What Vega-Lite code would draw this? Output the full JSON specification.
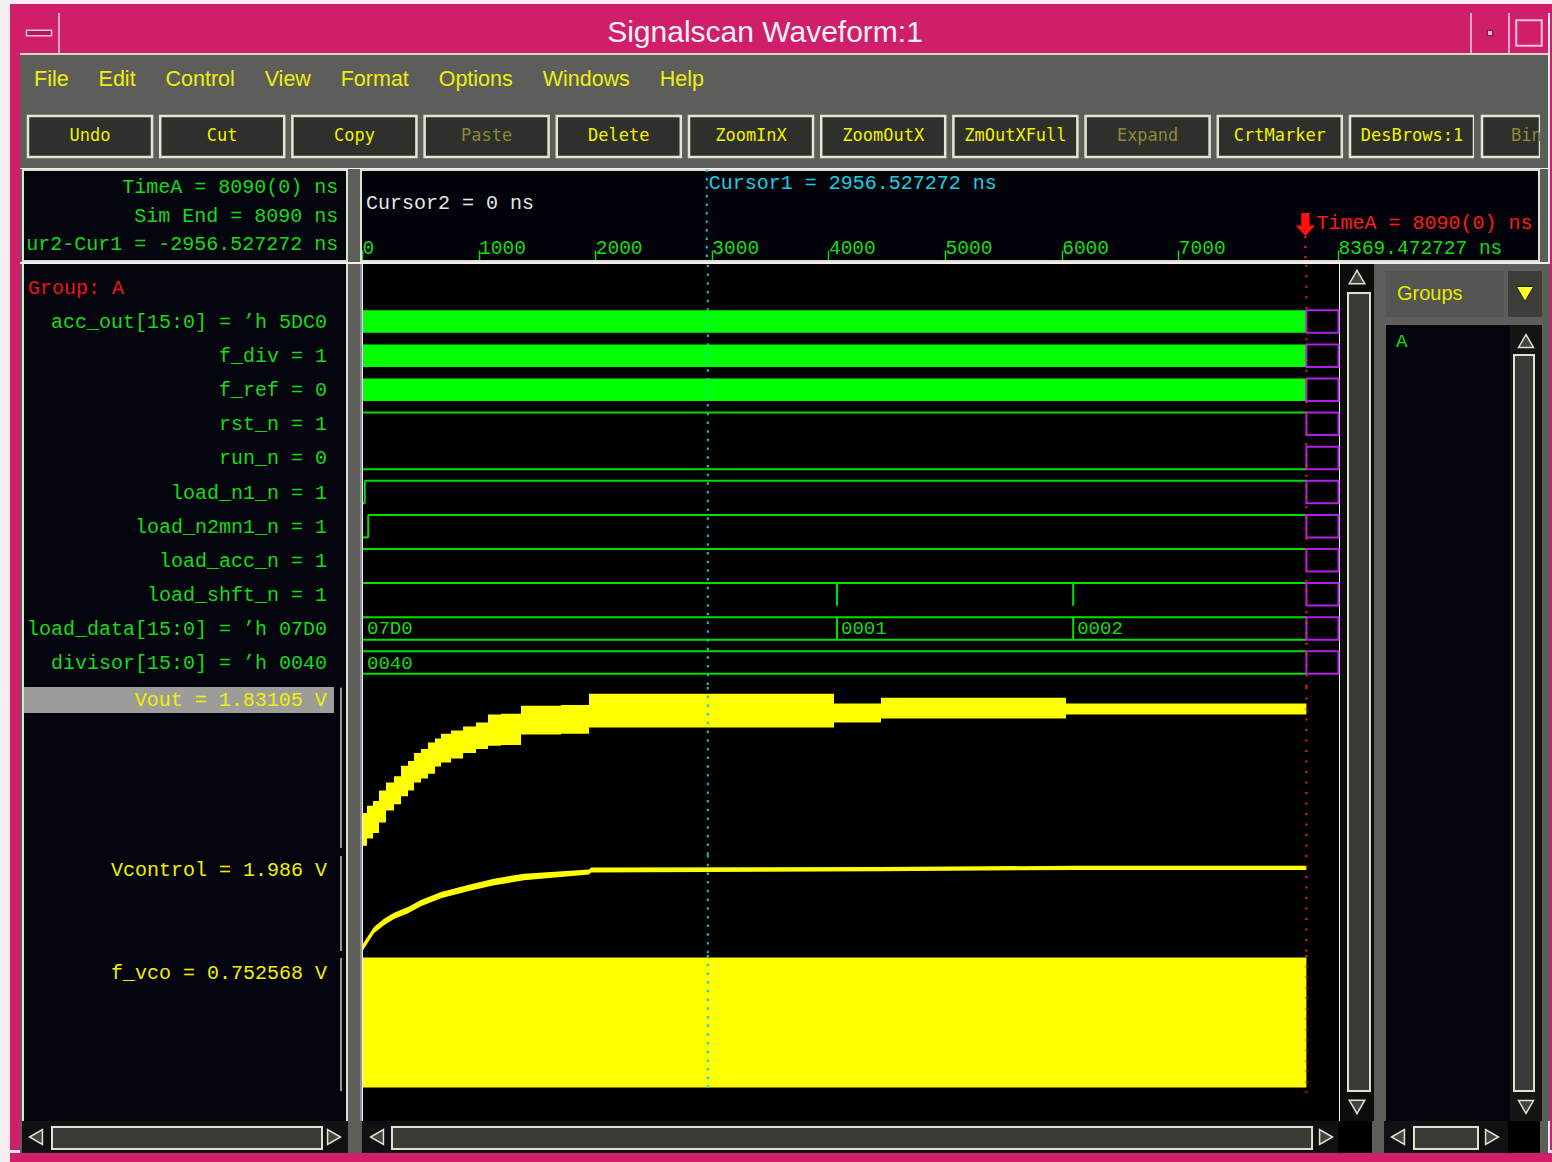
{
"$schema": "https://vega.github.io/schema/vega-lite/v6.json",
"background": "#f6eef2",
"padding": {"left": 10, "top": 4, "right": 0, "bottom": 0},
"spacing": 0,
"config": {"view": {"stroke": null}, "concat": {"spacing": 0}},
"datasets": {
"segs": [
{"row":"acc_out","t0":0,"t1":8090,"lvl":"fill"},
{"row":"f_div","t0":0,"t1":8090,"lvl":"fill"},
{"row":"f_ref","t0":0,"t1":8090,"lvl":"fill"},
{"row":"rst_n","t0":0,"t1":8090,"lvl":"hi"},
{"row":"run_n","t0":0,"t1":8090,"lvl":"lo"},
{"row":"load_n1_n","t0":0,"t1":15,"lvl":"lo"},
{"row":"load_n1_n","t0":15,"t1":8090,"lvl":"hi"},
{"row":"load_n2mn1_n","t0":0,"t1":45,"lvl":"lo"},
{"row":"load_n2mn1_n","t0":45,"t1":8090,"lvl":"hi"},
{"row":"load_acc_n","t0":0,"t1":8090,"lvl":"hi"},
{"row":"load_shft_n","t0":0,"t1":8090,"lvl":"hi"},
{"row":"load_data","t0":0,"t1":8090,"lvl":"bus"},
{"row":"divisor","t0":0,"t1":8090,"lvl":"bus"}
],
"edges": [
{"row":"load_n1_n","t":15},
{"row":"load_n2mn1_n","t":45},
{"row":"load_shft_n","t":4065},
{"row":"load_shft_n","t":6090},
{"row":"load_data","t":4065},
{"row":"load_data","t":6090}
],
"busvals": [
{"row":"load_data","t":0,"val":"07D0"},
{"row":"load_data","t":4065,"val":"0001"},
{"row":"load_data","t":6090,"val":"0002"},
{"row":"divisor","t":0,"val":"0040"}
],
"lanes": [
{"row":"acc_out"},{"row":"f_div"},{"row":"f_ref"},{"row":"rst_n"},{"row":"run_n"},{"row":"load_n1_n"},{"row":"load_n2mn1_n"},{"row":"load_acc_n"},{"row":"load_shft_n"},{"row":"load_data"},{"row":"divisor"}
],
"labels": [
{"row":"group","col":"left","label":"Group: A"},
{"row":"acc_out","col":"right","label":"acc_out[15:0] = ’h 5DC0"},
{"row":"f_div","col":"right","label":"f_div = 1"},
{"row":"f_ref","col":"right","label":"f_ref = 0"},
{"row":"rst_n","col":"right","label":"rst_n = 1"},
{"row":"run_n","col":"right","label":"run_n = 0"},
{"row":"load_n1_n","col":"right","label":"load_n1_n = 1"},
{"row":"load_n2mn1_n","col":"right","label":"load_n2mn1_n = 1"},
{"row":"load_acc_n","col":"right","label":"load_acc_n = 1"},
{"row":"load_shft_n","col":"right","label":"load_shft_n = 1"},
{"row":"load_data","col":"right","label":"load_data[15:0] = ’h 07D0"},
{"row":"divisor","col":"right","label":"divisor[15:0] = ’h 0040"}
],
"vout": [
{"t":0,"hi":0.50,"lo":0.09},{"t":34,"hi":0.59,"lo":0.18},{"t":86,"hi":0.65,"lo":0.25},{"t":137,"hi":0.78,"lo":0.38},
{"t":197,"hi":0.88,"lo":0.53},{"t":266,"hi":0.96,"lo":0.61},{"t":326,"hi":1.09,"lo":0.71},{"t":386,"hi":1.15,"lo":0.78},
{"t":437,"hi":1.25,"lo":0.88},{"t":497,"hi":1.30,"lo":0.93},{"t":557,"hi":1.38,"lo":0.99},{"t":617,"hi":1.43,"lo":1.08},
{"t":669,"hi":1.49,"lo":1.13},{"t":755,"hi":1.53,"lo":1.18},{"t":858,"hi":1.58,"lo":1.25},{"t":969,"hi":1.63,"lo":1.30},
{"t":1072,"hi":1.73,"lo":1.34},{"t":1183,"hi":1.74,"lo":1.35},{"t":1355,"hi":1.84,"lo":1.48},{"t":1698,"hi":1.85,"lo":1.49},
{"t":1938,"hi":1.99,"lo":1.57},{"t":4039,"hi":1.87,"lo":1.63},{"t":4442,"hi":1.94,"lo":1.68},{"t":6028,"hi":1.87,"lo":1.73},
{"t":8090,"hi":1.87,"lo":1.73}
],
"vctl": [
{"t":0,"hi":0.20,"lo":0.04},{"t":94,"hi":0.60,"lo":0.45},{"t":180,"hi":0.80,"lo":0.64},{"t":266,"hi":0.94,"lo":0.79},
{"t":386,"hi":1.08,"lo":0.93},{"t":497,"hi":1.25,"lo":1.10},{"t":669,"hi":1.44,"lo":1.29},{"t":900,"hi":1.61,"lo":1.46},
{"t":1123,"hi":1.76,"lo":1.60},{"t":1381,"hi":1.88,"lo":1.72},{"t":1938,"hi":1.98,"lo":1.86},{"t":1955,"hi":2.03,"lo":1.91},
{"t":4442,"hi":2.04,"lo":1.94},{"t":6114,"hi":2.07,"lo":1.97},{"t":8090,"hi":2.07,"lo":1.97}
],
"fvco": [{"t0":0,"t1":8090,"hi":1.2,"lo":0}],
"cursors": [{"cursor":"Cursor1","t":2956.527272},{"cursor":"TimeA","t":8090}],
"hdr": [
{"kind":"cursor1","t":2956.527272,"line":1,"text":"Cursor1 = 2956.527272 ns"},
{"kind":"cursor2","t":0,"line":2,"text":"Cursor2 = 0 ns"},
{"kind":"timeA","t":8090,"line":3,"text":"TimeA = 8090(0) ns"}
],
"lhdr": [
{"col":"r","line":1,"text":"TimeA = 8090(0) ns"},
{"col":"r","line":2,"text":"Sim End = 8090 ns"},
{"col":"r","line":3,"text":"ur2-Cur1 = -2956.527272 ns"}
],
"buttons": [
{"name":"Undo","state":"on","bar":"tb"},{"name":"Cut","state":"on","bar":"tb"},{"name":"Copy","state":"on","bar":"tb"},{"name":"Paste","state":"off","bar":"tb"},
{"name":"Delete","state":"on","bar":"tb"},{"name":"ZoomInX","state":"on","bar":"tb"},{"name":"ZoomOutX","state":"on","bar":"tb"},{"name":"ZmOutXFull","state":"on","bar":"tb"},
{"name":"Expand","state":"off","bar":"tb"},{"name":"CrtMarker","state":"on","bar":"tb"},{"name":"DesBrows:1","state":"on","bar":"tb"}
],
"hscroll": [{"part":"thumb"}],
"harrows": [{"dir":"L"},{"dir":"R"}],
"varrows": [{"dir":"U"},{"dir":"D"}]
},
"vconcat": [
{"width":1542,"height":9,"data":{"values":[{"k":0}]},"mark":{"type":"text","text":"","fontSize":1},"encoding":{},"view":{"fill":"#cf1f6b"}},
{"hconcat": [
{"width":10,"height":1137,"data":{"values":[{"k":0}]},"mark":{"type":"text","text":"","fontSize":1},"encoding":{},"view":{"fill":"#cf1f6b"}},
{"vconcat": [
{"hconcat": [
 {"width":38,"height":40,"data":{"values":[{"k":0}]},"mark":{"type":"point","shape":"M-1,-0.22L1,-0.22L1,0.22L-1,0.22Z","size":625,"filled":true,"fill":"#b0185a","stroke":"#f6c2da","strokeWidth":1.5,"opacity":1},"encoding":{},"view":{"fill":"#cf1f6b"}},
 {"width":2,"height":40,"data":{"values":[{"k":0}]},"mark":{"type":"text","text":"","fontSize":1},"encoding":{},"view":{"fill":"#eaa6c4"}},
 {"width":1410,"height":40,"data":{"values":[{"title":"Signalscan Waveform:1"}]},"mark":{"type":"text","font":"Liberation Sans","fontSize":30,"color":"#fbf2f6"},"encoding":{"text":{"field":"title"}},"view":{"fill":"#cf1f6b"}},
 {"width":2,"height":40,"data":{"values":[{"k":0}]},"mark":{"type":"text","text":"","fontSize":1},"encoding":{},"view":{"fill":"#eaa6c4"}},
 {"width":36,"height":40,"data":{"values":[{"k":0}]},"mark":{"type":"point","shape":"square","size":30,"filled":true,"fill":"#f0b4d0","stroke":"#6a0a30","strokeWidth":1,"opacity":1},"encoding":{},"view":{"fill":"#cf1f6b"}},
 {"width":2,"height":40,"data":{"values":[{"k":0}]},"mark":{"type":"text","text":"","fontSize":1},"encoding":{},"view":{"fill":"#eaa6c4"}},
 {"width":38,"height":40,"data":{"values":[{"k":0}]},"mark":{"type":"point","shape":"square","size":650,"filled":false,"stroke":"#f4c2da","strokeWidth":2,"opacity":1},"encoding":{},"view":{"fill":"#cf1f6b"}}
], "spacing":0, "bounds":"flush"},
{"width":1528,"height":2,"data":{"values":[{"k":0}]},"mark":{"type":"text","text":"","fontSize":1},"encoding":{},"view":{"fill":"#d8d4ca"}},
{"hconcat": [
 {"width":698,"height":50,"data":{"values":[{"menu":"File\u00a0\u00a0\u00a0\u00a0\u00a0Edit\u00a0\u00a0\u00a0\u00a0\u00a0Control\u00a0\u00a0\u00a0\u00a0\u00a0View\u00a0\u00a0\u00a0\u00a0\u00a0Format\u00a0\u00a0\u00a0\u00a0\u00a0Options\u00a0\u00a0\u00a0\u00a0\u00a0Windows\u00a0\u00a0\u00a0\u00a0\u00a0Help"}]},"mark":{"type":"text","font":"Liberation Sans","fontSize":21.5,"color":"#eeee10"},"encoding":{"text":{"field":"menu"}},"view":{"fill":"#5d5e5a"}},
 {"width":830,"height":50,"data":{"values":[{"k":0}]},"mark":{"type":"text","text":"","fontSize":1},"encoding":{},"view":{"fill":"#5d5e5a"}}
], "spacing":0, "bounds":"flush"},
{"hconcat": [
 {"width":8,"height":58,"data":{"values":[{"k":0}]},"mark":{"type":"text","text":"","fontSize":1},"encoding":{},"view":{"fill":"#5d5e5a"}},
 {"width":1446,"height":58,"data":{"name":"buttons"},"view":{"fill":"#5d5e5a"},
  "layer":[
   {"mark":{"type":"rect","fill":"#2f302c","stroke":"#e2e6d4","strokeWidth":2.5},
    "encoding":{"x":{"field":"name","type":"nominal","sort":null,"scale":{"type":"band","paddingInner":0.062,"paddingOuter":0,"round":false},"axis":null},
     "y":{"field":"bar","type":"nominal","scale":{"type":"band","paddingInner":0,"paddingOuter":0.207,"align":0.647},"axis":null}}},
   {"transform":[{"filter":{"field":"state","equal":"on"}}],
    "mark":{"type":"text","font":"DejaVu Sans Mono","fontSize":17,"color":"#f0f000"},
    "encoding":{"x":{"field":"name","type":"nominal","sort":null,"scale":{"type":"band","paddingInner":0.062,"paddingOuter":0,"round":false},"bandPosition":0.5,"axis":null},
     "y":{"field":"bar","type":"nominal","bandPosition":0.5,"scale":{"type":"band","paddingInner":0,"paddingOuter":0.207,"align":0.647},"axis":null},
     "text":{"field":"name"}}},
   {"transform":[{"filter":{"field":"state","equal":"off"}}],
    "mark":{"type":"text","font":"DejaVu Sans Mono","fontSize":17,"color":"#8a8a3a"},
    "encoding":{"x":{"field":"name","type":"nominal","sort":null,"scale":{"type":"band","paddingInner":0.062,"paddingOuter":0,"round":false},"bandPosition":0.5,"axis":null},
     "y":{"field":"bar","type":"nominal","bandPosition":0.5,"scale":{"type":"band","paddingInner":0,"paddingOuter":0.207,"align":0.647},"axis":null},
     "text":{"field":"name"}}}
  ]},
 {"width":8,"height":58,"data":{"values":[{"k":0}]},"mark":{"type":"text","text":"","fontSize":1},"encoding":{},"view":{"fill":"#5d5e5a"}},
 {"width":58,"height":58,"data":{"values":[{"name":"Bin","bar":"tb"}]},"view":{"fill":"#5d5e5a"},
  "layer":[
   {"mark":{"type":"rect","fill":"#2f302c","stroke":"#e2e6d4","strokeWidth":2.5},
    "encoding":{"x":{"field":"name","type":"nominal","scale":{"type":"band","paddingInner":0,"paddingOuter":0},"axis":null},
     "y":{"field":"bar","type":"nominal","scale":{"type":"band","paddingInner":0,"paddingOuter":0.207,"align":0.647},"axis":null}}},
   {"mark":{"type":"text","font":"DejaVu Sans Mono","fontSize":17,"align":"left","color":"#8a8a3a"},
    "encoding":{"x":{"field":"name","type":"nominal","scale":{"type":"band","paddingInner":0,"paddingOuter":0},"bandPosition":0.5,"axis":null},
     "y":{"field":"bar","type":"nominal","bandPosition":0.5,"scale":{"type":"band","paddingInner":0,"paddingOuter":0.207,"align":0.647},"axis":null},
     "text":{"field":"name"}}}
  ]},
 {"width":8,"height":58,"data":{"values":[{"k":0}]},"mark":{"type":"text","text":"","fontSize":1},"encoding":{},"view":{"fill":"#5d5e5a"}}
], "spacing":0, "bounds":"flush"},
{"width":1528,"height":5,"data":{"values":[{"k":0}]},"mark":{"type":"text","text":"","fontSize":1},"encoding":{},"view":{"fill":"#5d5e5a"}},
{"hconcat": [
 {"width":2,"height":93,"data":{"values":[{"k":0}]},"mark":{"type":"text","text":"","fontSize":1},"encoding":{},"view":{"fill":"#5d5e5a"}},
 {"width":326,"height":93,"view":{"fill":"#04040f"},
  "layer":[
   {"data":{"values":[{"part":"frame"}]},
    "mark":{"type":"rect","fill":"transparent","stroke":"#dde1cf","strokeWidth":2},
    "encoding":{"x":{"field":"part","type":"nominal","scale":{"type":"band","paddingInner":0,"paddingOuter":0.003086,"align":0.5},"axis":null},
     "y":{"field":"part","type":"nominal","scale":{"type":"band","paddingInner":0,"paddingOuter":0.011,"align":0.5},"axis":null}}},
   {"data":{"name":"lhdr"},
    "mark":{"type":"text","align":"right","font":"Liberation Mono","fontSize":20,"color":"#14dc14"},
    "encoding":{"x":{"field":"col","type":"nominal","scale":{"type":"point","align":0.97},"axis":null},
     "y":{"field":"line","type":"quantitative","scale":{"domain":[0.368,3.63],"nice":false,"zero":false,"reverse":true},"axis":null},
     "text":{"field":"text"}}}
  ],
  "resolve":{"scale":{"x":"independent","y":"independent"}}},
 {"width":12,"height":93,"data":{"values":[{"k":0}]},"mark":{"type":"text","text":"","fontSize":1},"encoding":{},"view":{"fill":"#5d5e5a"}},
 {"width":1180,"height":93,"view":{"fill":"#02020a"},
  "layer":[
   {"data":{"values":[{"part":"frame"}]},
    "mark":{"type":"rect","fill":"transparent","stroke":"#dde1cf","strokeWidth":2},
    "encoding":{"x":{"field":"part","type":"nominal","scale":{"type":"band","paddingInner":0,"paddingOuter":0.000849,"align":0.5},"axis":null},
     "y":{"field":"part","type":"nominal","scale":{"type":"band","paddingInner":0,"paddingOuter":0.011,"align":0.5},"axis":null}}},
   {"data":{"name":"cursors"},"transform":[{"filter":{"field":"cursor","equal":"Cursor1"}}],
    "mark":{"type":"rule","color":"#10c8d8","strokeDash":[2.5,6],"strokeWidth":2},
    "encoding":{"x":{"field":"t","type":"quantitative","scale":{"domain":[-17.15,10101.7],"nice":false,"zero":false},
      "axis":{"orient":"top","offset":-92,"values":[0,1000,2000,3000,4000,5000,6000,7000,8369.472727],"format":"d","labelExpr":"datum.value > 8000 ? '8369.472727 ns' : datum.label","grid":false,"domain":false,"ticks":true,"tickSize":11,"tickColor":"#14d814","tickWidth":1.5,"labelColor":"#14dc14","labelFont":"Liberation Mono","labelFontSize":19.5,"labelAlign":"left","labelBaseline":"alphabetic","labelPadding":-3,"labelDx":3,"labelFlush":false,"labelOverlap":false,"title":null}},
     "y":{"datum":0.33,"type":"quantitative","scale":{"domain":[0.3,4.95],"nice":false,"zero":false,"reverse":true},"axis":null},
     "y2":{"datum":4.92}}},
   {"data":{"name":"cursors"},"transform":[{"filter":{"field":"cursor","equal":"TimeA"}}],
    "mark":{"type":"rule","color":"#ff2020","strokeDash":[2,8],"strokeWidth":2},
    "encoding":{"x":{"field":"t","type":"quantitative","scale":{"domain":[-17.15,10101.7],"nice":false,"zero":false},"axis":null},
     "y":{"datum":3.65,"type":"quantitative","scale":{"domain":[0.3,4.95],"nice":false,"zero":false,"reverse":true},"axis":null},
     "y2":{"datum":4.92}}},
   {"data":{"name":"cursors"},"transform":[{"filter":{"field":"cursor","equal":"TimeA"}}],
    "mark":{"type":"point","shape":"M-0.36,-1L0.36,-1L0.36,0.1L0.85,0.1L0,1L-0.85,0.1L-0.36,0.1Z","size":529,"filled":true,"color":"#ff1010","opacity":1},
    "encoding":{"x":{"field":"t","type":"quantitative","scale":{"domain":[-17.15,10101.7],"nice":false,"zero":false},"axis":null},
     "y":{"datum":3.07,"type":"quantitative","scale":{"domain":[0.3,4.95],"nice":false,"zero":false,"reverse":true},"axis":null}}},
   {"data":{"name":"hdr"},"transform":[{"filter":{"field":"kind","equal":"cursor1"}}],
    "mark":{"type":"text","align":"left","dx":2,"font":"Liberation Mono","fontSize":20,"color":"#18d0e0"},
    "encoding":{"x":{"field":"t","type":"quantitative","scale":{"domain":[-17.15,10101.7],"nice":false,"zero":false},"axis":null},
     "y":{"field":"line","type":"quantitative","scale":{"domain":[0.3,4.95],"nice":false,"zero":false,"reverse":true},"axis":null},
     "text":{"field":"text"}}},
   {"data":{"name":"hdr"},"transform":[{"filter":{"field":"kind","equal":"cursor2"}}],
    "mark":{"type":"text","align":"left","dx":4,"font":"Liberation Mono","fontSize":20,"color":"#e6e6e6"},
    "encoding":{"x":{"field":"t","type":"quantitative","scale":{"domain":[-17.15,10101.7],"nice":false,"zero":false},"axis":null},
     "y":{"field":"line","type":"quantitative","scale":{"domain":[0.3,4.95],"nice":false,"zero":false,"reverse":true},"axis":null},
     "text":{"field":"text"}}},
   {"data":{"name":"hdr"},"transform":[{"filter":{"field":"kind","equal":"timeA"}}],
    "mark":{"type":"text","align":"left","dx":11,"font":"Liberation Mono","fontSize":20,"color":"#ff1a1a"},
    "encoding":{"x":{"field":"t","type":"quantitative","scale":{"domain":[-17.15,10101.7],"nice":false,"zero":false},"axis":null},
     "y":{"field":"line","type":"quantitative","scale":{"domain":[0.3,4.95],"nice":false,"zero":false,"reverse":true},"axis":null},
     "text":{"field":"text"}}}
  ],
  "resolve":{"scale":{"x":"independent","y":"independent"}}},
 {"width":8,"height":93,"data":{"values":[{"k":0}]},"mark":{"type":"text","text":"","fontSize":1},"encoding":{},"view":{"fill":"#5d5e5a"}}
], "spacing":0, "bounds":"flush"},
{"hconcat": [
 {"width":2,"height":857,"data":{"values":[{"k":0}]},"mark":{"type":"text","text":"","fontSize":1},"encoding":{},"view":{"fill":"#5d5e5a"}},
 {"width":2,"height":857,"data":{"values":[{"k":0}]},"mark":{"type":"text","text":"","fontSize":1},"encoding":{},"view":{"fill":"#dde1cf"}},
 {"vconcat": [
  {"width":322,"height":423,"view":{"fill":"#04040f"},"data":{"name":"labels"},
   "layer":[
    {"transform":[{"filter":{"field":"col","equal":"right"}}],
     "mark":{"type":"text","align":"right","font":"Liberation Mono","fontSize":20,"color":"#14dc14"},
     "encoding":{"x":{"field":"col","type":"nominal","scale":{"type":"point","domain":["left","right"],"padding":0.0385,"align":0.174},"axis":null},
      "y":{"field":"row","type":"nominal","bandPosition":0.5,"scale":{"type":"band","domain":["group","acc_out","f_div","f_ref","rst_n","run_n","load_n1_n","load_n2mn1_n","load_acc_n","load_shft_n","load_data","divisor"],"paddingInner":0.34,"paddingOuter":0.3725,"align":0.5,"round":false},"axis":null},
      "text":{"field":"label"}}},
    {"transform":[{"filter":{"field":"col","equal":"left"}}],
     "mark":{"type":"text","align":"left","font":"Liberation Mono","fontSize":20,"color":"#f01414"},
     "encoding":{"x":{"field":"col","type":"nominal","scale":{"type":"point","domain":["left","right"],"padding":0.0385,"align":0.174},"axis":null},
      "y":{"field":"row","type":"nominal","bandPosition":0.5,"scale":{"type":"band","domain":["group","acc_out","f_div","f_ref","rst_n","run_n","load_n1_n","load_n2mn1_n","load_acc_n","load_shft_n","load_data","divisor"],"paddingInner":0.34,"paddingOuter":0.3725,"align":0.5,"round":false},"axis":null},
      "text":{"field":"label"}}}
   ]},
  {"width":322,"height":168,"view":{"fill":"#04040f"},"data":{"values":[{"sig":"Vout","label":"Vout = 1.83105 V"}]},
   "layer":[
    {"mark":{"type":"rect","color":"#9c9d98"},
     "encoding":{"x":{"field":"sig","type":"nominal","scale":{"type":"band","paddingInner":0,"paddingOuter":0.01935,"align":0.0},"axis":null},
      "y":{"datum":1,"type":"quantitative","scale":{"domain":[0,1],"nice":false,"zero":false},"axis":null},
      "y2":{"datum":0.845}}},
    {"mark":{"type":"text","align":"right","font":"Liberation Mono","fontSize":20,"color":"#f2f000"},
     "encoding":{"x":{"field":"sig","type":"nominal","bandPosition":0.977,"scale":{"type":"band","paddingInner":0,"paddingOuter":0.01935,"align":0.0},"axis":null},
      "y":{"datum":0.923,"type":"quantitative","scale":{"domain":[0,1],"nice":false,"zero":false},"axis":null},
      "text":{"field":"label"}}},
    {"mark":{"type":"rule","color":"#c4c8b8","strokeWidth":1.5},
     "encoding":{"x":{"datum":"bracket","type":"nominal","scale":{"type":"point","align":0.9845},"axis":null},
      "y":{"datum":0.995,"type":"quantitative","scale":{"domain":[0,1],"nice":false,"zero":false},"axis":null},
      "y2":{"datum":0.042}}}
   ],
   "resolve":{"scale":{"x":"independent"}}},
  {"width":322,"height":100,"view":{"fill":"#04040f"},"data":{"values":[{"sig":"Vcontrol","label":"Vcontrol = 1.986 V"}]},
   "layer":[
    {"mark":{"type":"text","align":"right","font":"Liberation Mono","fontSize":20,"color":"#f2f000"},
     "encoding":{"x":{"field":"sig","type":"nominal","scale":{"type":"point","align":0.941},"axis":null},
      "y":{"field":"sig","type":"nominal","scale":{"type":"point","align":0.15},"axis":null},
      "text":{"field":"label"}}},
    {"mark":{"type":"rule","color":"#c4c8b8","strokeWidth":1.5},
     "encoding":{"x":{"datum":"bracket","type":"nominal","scale":{"type":"point","align":0.9845},"axis":null},
      "y":{"datum":0.99,"type":"quantitative","scale":{"domain":[0,1],"nice":false,"zero":false},"axis":null},
      "y2":{"datum":0.04}}}
   ],
   "resolve":{"scale":{"x":"independent","y":"independent"}}},
  {"width":322,"height":166,"view":{"fill":"#04040f"},"data":{"values":[{"sig":"f_vco","label":"f_vco = 0.752568 V"}]},
   "layer":[
    {"mark":{"type":"text","align":"right","font":"Liberation Mono","fontSize":20,"color":"#f2f000"},
     "encoding":{"x":{"field":"sig","type":"nominal","scale":{"type":"point","align":0.941},"axis":null},
      "y":{"field":"sig","type":"nominal","scale":{"type":"point","align":0.108},"axis":null},
      "text":{"field":"label"}}},
    {"mark":{"type":"rule","color":"#c4c8b8","strokeWidth":1.5},
     "encoding":{"x":{"datum":"bracket","type":"nominal","scale":{"type":"point","align":0.9845},"axis":null},
      "y":{"datum":0.982,"type":"quantitative","scale":{"domain":[0,1],"nice":false,"zero":false},"axis":null},
      "y2":{"datum":0.18}}}
   ],
   "resolve":{"scale":{"x":"independent","y":"independent"}}}
 ], "spacing":0, "bounds":"flush"},
 {"width":2,"height":857,"data":{"values":[{"k":0}]},"mark":{"type":"text","text":"","fontSize":1},"encoding":{},"view":{"fill":"#dde1cf"}},
 {"width":12,"height":857,"data":{"values":[{"k":0}]},"mark":{"type":"text","text":"","fontSize":1},"encoding":{},"view":{"fill":"#5d5e5a"}},
 {"width":2,"height":857,"data":{"values":[{"k":0}]},"mark":{"type":"text","text":"","fontSize":1},"encoding":{},"view":{"fill":"#8c8e9a"}},
 {"vconcat": [
  {"width":976,"height":423,"view":{"fill":"#000000"},
   "layer":[
    {"data":{"name":"segs"},"transform":[{"filter":{"field":"lvl","equal":"fill"}}],
     "mark":{"type":"rect","color":"#00ff00"},
     "encoding":{"x":{"field":"t0","type":"quantitative","scale":{"domain":[0,8369.472727],"nice":false,"zero":false},"axis":null},
      "x2":{"field":"t1"},
      "y":{"field":"row","type":"nominal","scale":{"type":"band","domain":["group","acc_out","f_div","f_ref","rst_n","run_n","load_n1_n","load_n2mn1_n","load_acc_n","load_shft_n","load_data","divisor"],"paddingInner":0.34,"paddingOuter":0.3725,"align":0.48,"round":false},"axis":null}}},
    {"data":{"name":"segs"},"transform":[{"filter":{"field":"lvl","oneOf":["hi","bus"]}}],
     "mark":{"type":"rule","color":"#00e000","strokeWidth":2},
     "encoding":{"x":{"field":"t0","type":"quantitative","scale":{"domain":[0,8369.472727],"nice":false,"zero":false},"axis":null},
      "x2":{"field":"t1"},
      "y":{"field":"row","type":"nominal","bandPosition":0,"scale":{"type":"band","domain":["group","acc_out","f_div","f_ref","rst_n","run_n","load_n1_n","load_n2mn1_n","load_acc_n","load_shft_n","load_data","divisor"],"paddingInner":0.34,"paddingOuter":0.3725,"align":0.48,"round":false},"axis":null}}},
    {"data":{"name":"segs"},"transform":[{"filter":{"field":"lvl","oneOf":["lo","bus"]}}],
     "mark":{"type":"rule","color":"#00e000","strokeWidth":2},
     "encoding":{"x":{"field":"t0","type":"quantitative","scale":{"domain":[0,8369.472727],"nice":false,"zero":false},"axis":null},
      "x2":{"field":"t1"},
      "y":{"field":"row","type":"nominal","bandPosition":1,"scale":{"type":"band","domain":["group","acc_out","f_div","f_ref","rst_n","run_n","load_n1_n","load_n2mn1_n","load_acc_n","load_shft_n","load_data","divisor"],"paddingInner":0.34,"paddingOuter":0.3725,"align":0.48,"round":false},"axis":null}}},
    {"data":{"name":"edges"},
     "mark":{"type":"tick","color":"#00e000","thickness":2,"size":23,"opacity":1},
     "encoding":{"x":{"field":"t","type":"quantitative","scale":{"domain":[0,8369.472727],"nice":false,"zero":false},"axis":null},
      "y":{"field":"row","type":"nominal","scale":{"type":"band","domain":["group","acc_out","f_div","f_ref","rst_n","run_n","load_n1_n","load_n2mn1_n","load_acc_n","load_shft_n","load_data","divisor"],"paddingInner":0.34,"paddingOuter":0.3725,"align":0.48,"round":false},"axis":null}}},
    {"data":{"name":"busvals"},
     "mark":{"type":"text","align":"left","dx":4,"font":"Liberation Mono","fontSize":19,"color":"#14dc14"},
     "encoding":{"x":{"field":"t","type":"quantitative","scale":{"domain":[0,8369.472727],"nice":false,"zero":false},"axis":null},
      "y":{"field":"row","type":"nominal","bandPosition":0.5,"scale":{"type":"band","domain":["group","acc_out","f_div","f_ref","rst_n","run_n","load_n1_n","load_n2mn1_n","load_acc_n","load_shft_n","load_data","divisor"],"paddingInner":0.34,"paddingOuter":0.3725,"align":0.48,"round":false},"axis":null},
      "text":{"field":"val"}}},
    {"data":{"name":"lanes"},
     "mark":{"type":"rect","fill":"transparent","stroke":"#b020e8","strokeWidth":2},
     "encoding":{"x":{"datum":8090,"type":"quantitative","scale":{"domain":[0,8369.472727],"nice":false,"zero":false},"axis":null},
      "x2":{"datum":8365},
      "y":{"field":"row","type":"nominal","scale":{"type":"band","domain":["group","acc_out","f_div","f_ref","rst_n","run_n","load_n1_n","load_n2mn1_n","load_acc_n","load_shft_n","load_data","divisor"],"paddingInner":0.34,"paddingOuter":0.3725,"align":0.48,"round":false},"axis":null}}},
    {"data":{"name":"cursors"},"transform":[{"filter":{"field":"cursor","equal":"Cursor1"}}],
     "mark":{"type":"rule","color":"#10c8d8","strokeDash":[2.5,6.2],"strokeWidth":2},
     "encoding":{"x":{"field":"t","type":"quantitative","scale":{"domain":[0,8369.472727],"nice":false,"zero":false},"axis":null},
      "y":{"datum":0.998,"type":"quantitative","scale":{"domain":[0,1],"nice":false,"zero":false},"axis":null},
      "y2":{"datum":0}}},
    {"data":{"name":"cursors"},"transform":[{"filter":{"field":"cursor","equal":"TimeA"}}],
     "mark":{"type":"rule","color":"#ff2020","strokeDash":[2,8.5],"strokeWidth":2},
     "encoding":{"x":{"field":"t","type":"quantitative","scale":{"domain":[0,8369.472727],"nice":false,"zero":false},"axis":null},
      "y":{"datum":0.998,"type":"quantitative","scale":{"domain":[0,1],"nice":false,"zero":false},"axis":null},
      "y2":{"datum":0}}}
   ],
   "resolve":{"scale":{"y":"independent"}}},
  {"width":976,"height":168,"view":{"fill":"#000000"},
   "layer":[
    {"data":{"name":"vout"},
     "mark":{"type":"area","interpolate":"step-after","color":"#ffff00","opacity":1},
     "encoding":{"x":{"field":"t","type":"quantitative","scale":{"domain":[0,8369.472727],"nice":false,"zero":false},"axis":null},
      "y":{"field":"hi","type":"quantitative","scale":{"domain":[-0.025,2.075],"nice":false,"zero":false},"axis":null},
      "y2":{"field":"lo"}}},
    {"data":{"name":"cursors"},"transform":[{"filter":{"field":"cursor","equal":"Cursor1"}}],
     "mark":{"type":"rule","color":"#10c8d8","strokeDash":[2.5,6.2],"strokeWidth":2},
     "encoding":{"x":{"field":"t","type":"quantitative","scale":{"domain":[0,8369.472727],"nice":false,"zero":false},"axis":null}}},
    {"data":{"name":"cursors"},"transform":[{"filter":{"field":"cursor","equal":"TimeA"}}],
     "mark":{"type":"rule","color":"#ff2020","strokeDash":[2,8.5],"strokeWidth":2},
     "encoding":{"x":{"field":"t","type":"quantitative","scale":{"domain":[0,8369.472727],"nice":false,"zero":false},"axis":null}}}
   ]},
  {"width":976,"height":100,"view":{"fill":"#000000"},
   "layer":[
    {"data":{"name":"vctl"},
     "mark":{"type":"area","interpolate":"linear","color":"#ffff00","opacity":1},
     "encoding":{"x":{"field":"t","type":"quantitative","scale":{"domain":[0,8369.472727],"nice":false,"zero":false},"axis":null},
      "y":{"field":"hi","type":"quantitative","scale":{"domain":[-0.072,2.328],"nice":false,"zero":false},"axis":null},
      "y2":{"field":"lo"}}},
    {"data":{"name":"cursors"},"transform":[{"filter":{"field":"cursor","equal":"Cursor1"}}],
     "mark":{"type":"rule","color":"#10c8d8","strokeDash":[2.5,6.2],"strokeWidth":2},
     "encoding":{"x":{"field":"t","type":"quantitative","scale":{"domain":[0,8369.472727],"nice":false,"zero":false},"axis":null}}},
    {"data":{"name":"cursors"},"transform":[{"filter":{"field":"cursor","equal":"TimeA"}}],
     "mark":{"type":"rule","color":"#ff2020","strokeDash":[2,8.5],"strokeWidth":2},
     "encoding":{"x":{"field":"t","type":"quantitative","scale":{"domain":[0,8369.472727],"nice":false,"zero":false},"axis":null}}}
   ]},
  {"width":976,"height":166,"view":{"fill":"#000000"},
   "layer":[
    {"data":{"name":"fvco"},
     "mark":{"type":"rect","color":"#ffff00"},
     "encoding":{"x":{"field":"t0","type":"quantitative","scale":{"domain":[0,8369.472727],"nice":false,"zero":false},"axis":null},
      "x2":{"field":"t1"},
      "y":{"field":"hi","type":"quantitative","scale":{"domain":[-0.309,1.223],"nice":false,"zero":false},"axis":null},
      "y2":{"field":"lo"}}},
    {"data":{"name":"cursors"},"transform":[{"filter":{"field":"cursor","equal":"Cursor1"}}],
     "mark":{"type":"rule","color":"#10c8d8","strokeDash":[2.5,6.2],"strokeWidth":2},
     "encoding":{"x":{"field":"t","type":"quantitative","scale":{"domain":[0,8369.472727],"nice":false,"zero":false},"axis":null},
      "y":{"datum":1.223,"type":"quantitative","scale":{"domain":[-0.309,1.223],"nice":false,"zero":false},"axis":null},
      "y2":{"datum":-0.05}}},
    {"data":{"name":"cursors"},"transform":[{"filter":{"field":"cursor","equal":"TimeA"}}],
     "mark":{"type":"rule","color":"#ff2020","strokeDash":[2,8.5],"strokeWidth":2},
     "encoding":{"x":{"field":"t","type":"quantitative","scale":{"domain":[0,8369.472727],"nice":false,"zero":false},"axis":null},
      "y":{"datum":1.223,"type":"quantitative","scale":{"domain":[-0.309,1.223],"nice":false,"zero":false},"axis":null},
      "y2":{"datum":-0.05}}}
   ]}
 ], "spacing":0, "bounds":"flush"},
 {"width":34,"height":857,"view":{"fill":"#0c0c0c"},
  "layer":[
   {"data":{"name":"hscroll"},
    "mark":{"type":"rect","fill":"#3a3b37","stroke":"#dde1cf","strokeWidth":2},
    "encoding":{"x":{"field":"part","type":"nominal","scale":{"type":"band","paddingInner":0,"paddingOuter":0.273,"align":0.667},"axis":null},
     "y":{"field":"part","type":"nominal","scale":{"type":"band","paddingInner":0,"paddingOuter":0.037,"align":0.49},"axis":null}}},
   {"data":{"name":"varrows"},"transform":[{"filter":{"field":"dir","equal":"U"}}],
    "mark":{"type":"point","shape":"triangle-up","filled":true,"size":240,"fill":"#44453f","stroke":"#dde1cf","strokeWidth":1.5,"opacity":1},
    "encoding":{"y":{"field":"dir","type":"nominal","scale":{"type":"point","domain":["U","D"],"padding":0.01627,"align":0.48},"axis":null}}},
   {"data":{"name":"varrows"},"transform":[{"filter":{"field":"dir","equal":"D"}}],
    "mark":{"type":"point","shape":"triangle-down","filled":true,"size":240,"fill":"#44453f","stroke":"#dde1cf","strokeWidth":1.5,"opacity":1},
    "encoding":{"y":{"field":"dir","type":"nominal","scale":{"type":"point","domain":["U","D"],"padding":0.01627,"align":0.48},"axis":null}}}
  ],
  "resolve":{"scale":{"x":"independent","y":"independent"}}},
 {"vconcat": [
  {"width":176,"height":7,"data":{"values":[{"k":0}]},"mark":{"type":"text","text":"","fontSize":1},"encoding":{},"view":{"fill":"#5d5e5a"}},
  {"hconcat": [
   {"width":12,"height":46,"data":{"values":[{"k":0}]},"mark":{"type":"text","text":"","fontSize":1},"encoding":{},"view":{"fill":"#5d5e5a"}},
   {"width":118,"height":46,"data":{"values":[{"item":"Groups"}]},"view":{"fill":"#555651"},
    "mark":{"type":"text","align":"left","font":"Liberation Sans","fontSize":20,"color":"#e8e800"},
    "encoding":{"x":{"field":"item","type":"nominal","scale":{"type":"point","align":0.093},"axis":null},"text":{"field":"item"}}},
   {"width":4,"height":46,"data":{"values":[{"k":0}]},"mark":{"type":"text","text":"","fontSize":1},"encoding":{},"view":{"fill":"#5d5e5a"}},
   {"width":34,"height":46,"data":{"values":[{"k":0}]},"view":{"fill":"#3d3e3a"},
    "mark":{"type":"point","shape":"triangle-down","size":300,"filled":true,"fill":"#ffff20","stroke":"#202020","strokeWidth":1,"opacity":1},"encoding":{}},
   {"width":8,"height":46,"data":{"values":[{"k":0}]},"mark":{"type":"text","text":"","fontSize":1},"encoding":{},"view":{"fill":"#5d5e5a"}}
  ], "spacing":0, "bounds":"flush"},
  {"width":176,"height":8,"data":{"values":[{"k":0}]},"mark":{"type":"text","text":"","fontSize":1},"encoding":{},"view":{"fill":"#5d5e5a"}},
  {"hconcat": [
   {"width":12,"height":796,"data":{"values":[{"k":0}]},"mark":{"type":"text","text":"","fontSize":1},"encoding":{},"view":{"fill":"#5d5e5a"}},
   {"width":124,"height":796,"data":{"values":[{"group":"A"}]},"view":{"fill":"#04040f"},
    "mark":{"type":"text","align":"left","font":"Liberation Mono","fontSize":19,"color":"#14dc14"},
    "encoding":{"x":{"field":"group","type":"nominal","scale":{"type":"point","align":0.08},"axis":null},
     "y":{"field":"group","type":"nominal","scale":{"type":"point","align":0.02},"axis":null},
     "text":{"field":"group"}}},
   {"width":32,"height":796,"view":{"fill":"#141414"},
    "layer":[
     {"data":{"name":"hscroll"},
      "mark":{"type":"rect","fill":"#3a3b37","stroke":"#dde1cf","strokeWidth":2},
      "encoding":{"x":{"field":"part","type":"nominal","scale":{"type":"band","paddingInner":0,"paddingOuter":0.3,"align":0.333},"axis":null},
       "y":{"field":"part","type":"nominal","scale":{"type":"band","paddingInner":0,"paddingOuter":0.04076,"align":0.5},"axis":null}}},
     {"data":{"name":"varrows"},"transform":[{"filter":{"field":"dir","equal":"U"}}],
      "mark":{"type":"point","shape":"triangle-up","filled":true,"size":220,"fill":"#44453f","stroke":"#dde1cf","strokeWidth":1.5,"opacity":1},
      "encoding":{"y":{"field":"dir","type":"nominal","scale":{"type":"point","domain":["U","D"],"padding":0.01958,"align":0.533},"axis":null}}},
     {"data":{"name":"varrows"},"transform":[{"filter":{"field":"dir","equal":"D"}}],
      "mark":{"type":"point","shape":"triangle-down","filled":true,"size":220,"fill":"#44453f","stroke":"#dde1cf","strokeWidth":1.5,"opacity":1},
      "encoding":{"y":{"field":"dir","type":"nominal","scale":{"type":"point","domain":["U","D"],"padding":0.01958,"align":0.533},"axis":null}}}
    ],
    "resolve":{"scale":{"x":"independent","y":"independent"}}},
   {"width":8,"height":796,"data":{"values":[{"k":0}]},"mark":{"type":"text","text":"","fontSize":1},"encoding":{},"view":{"fill":"#5d5e5a"}}
  ], "spacing":0, "bounds":"flush"}
 ], "spacing":0}
], "spacing":0},
{"hconcat": [
 {"width":2,"height":32,"data":{"values":[{"k":0}]},"mark":{"type":"text","text":"","fontSize":1},"encoding":{},"view":{"fill":"#5d5e5a"}},
 {"width":326,"height":32,"view":{"fill":"#101012"},
  "layer":[
   {"data":{"name":"hscroll"},
    "mark":{"type":"rect","fill":"#3a3b37","stroke":"#dde1cf","strokeWidth":2},
    "encoding":{"x":{"field":"part","type":"nominal","scale":{"type":"band","paddingInner":0,"paddingOuter":0.1037,"align":0.536},"axis":null},
     "y":{"field":"part","type":"nominal","scale":{"type":"band","paddingInner":0,"paddingOuter":0.227,"align":0.6},"axis":null}}},
   {"data":{"name":"harrows"},"transform":[{"filter":{"field":"dir","equal":"L"}}],
    "mark":{"type":"point","shape":"triangle-left","filled":true,"size":220,"fill":"#44453f","stroke":"#dde1cf","strokeWidth":1.5,"opacity":1},
    "encoding":{"x":{"field":"dir","type":"nominal","scale":{"type":"point","domain":["L","R"],"padding":0.047,"align":0.5},"axis":null}}},
   {"data":{"name":"harrows"},"transform":[{"filter":{"field":"dir","equal":"R"}}],
    "mark":{"type":"point","shape":"triangle-right","filled":true,"size":220,"fill":"#44453f","stroke":"#dde1cf","strokeWidth":1.5,"opacity":1},
    "encoding":{"x":{"field":"dir","type":"nominal","scale":{"type":"point","domain":["L","R"],"padding":0.047,"align":0.5},"axis":null}}}
  ],
  "resolve":{"scale":{"x":"independent","y":"independent"}}},
 {"width":14,"height":32,"data":{"values":[{"k":0}]},"mark":{"type":"text","text":"","fontSize":1},"encoding":{},"view":{"fill":"#5d5e5a"}},
 {"width":976,"height":32,"view":{"fill":"#101012"},
  "layer":[
   {"data":{"name":"hscroll"},
    "mark":{"type":"rect","fill":"#3a3b37","stroke":"#dde1cf","strokeWidth":2},
    "encoding":{"x":{"field":"part","type":"nominal","scale":{"type":"band","paddingInner":0,"paddingOuter":0.0304,"align":0.536},"axis":null},
     "y":{"field":"part","type":"nominal","scale":{"type":"band","paddingInner":0,"paddingOuter":0.227,"align":0.6},"axis":null}}},
   {"data":{"name":"harrows"},"transform":[{"filter":{"field":"dir","equal":"L"}}],
    "mark":{"type":"point","shape":"triangle-left","filled":true,"size":220,"fill":"#44453f","stroke":"#dde1cf","strokeWidth":1.5,"opacity":1},
    "encoding":{"x":{"field":"dir","type":"nominal","scale":{"type":"point","domain":["L","R"],"padding":0.01423,"align":0.556},"axis":null}}},
   {"data":{"name":"harrows"},"transform":[{"filter":{"field":"dir","equal":"R"}}],
    "mark":{"type":"point","shape":"triangle-right","filled":true,"size":220,"fill":"#44453f","stroke":"#dde1cf","strokeWidth":1.5,"opacity":1},
    "encoding":{"x":{"field":"dir","type":"nominal","scale":{"type":"point","domain":["L","R"],"padding":0.01423,"align":0.556},"axis":null}}}
  ],
  "resolve":{"scale":{"x":"independent","y":"independent"}}},
 {"width":34,"height":32,"data":{"values":[{"k":0}]},"mark":{"type":"text","text":"","fontSize":1},"encoding":{},"view":{"fill":"#000000"}},
 {"width":12,"height":32,"data":{"values":[{"k":0}]},"mark":{"type":"text","text":"","fontSize":1},"encoding":{},"view":{"fill":"#5d5e5a"}},
 {"width":124,"height":32,"view":{"fill":"#101012"},
  "layer":[
   {"data":{"name":"hscroll"},
    "mark":{"type":"rect","fill":"#3a3b37","stroke":"#dde1cf","strokeWidth":2},
    "encoding":{"x":{"field":"part","type":"nominal","scale":{"type":"band","paddingInner":0,"paddingOuter":0.46875,"align":0.5},"axis":null},
     "y":{"field":"part","type":"nominal","scale":{"type":"band","paddingInner":0,"paddingOuter":0.227,"align":0.6},"axis":null}}},
   {"data":{"name":"harrows"},"transform":[{"filter":{"field":"dir","equal":"L"}}],
    "mark":{"type":"point","shape":"triangle-left","filled":true,"size":220,"fill":"#44453f","stroke":"#dde1cf","strokeWidth":1.5,"opacity":1},
    "encoding":{"x":{"field":"dir","type":"nominal","scale":{"type":"point","domain":["L","R"],"padding":0.1596,"align":0.467},"axis":null}}},
   {"data":{"name":"harrows"},"transform":[{"filter":{"field":"dir","equal":"R"}}],
    "mark":{"type":"point","shape":"triangle-right","filled":true,"size":220,"fill":"#44453f","stroke":"#dde1cf","strokeWidth":1.5,"opacity":1},
    "encoding":{"x":{"field":"dir","type":"nominal","scale":{"type":"point","domain":["L","R"],"padding":0.1596,"align":0.467},"axis":null}}}
  ],
  "resolve":{"scale":{"x":"independent","y":"independent"}}},
 {"width":32,"height":32,"data":{"values":[{"k":0}]},"mark":{"type":"text","text":"","fontSize":1},"encoding":{},"view":{"fill":"#000000"}},
 {"width":8,"height":32,"data":{"values":[{"k":0}]},"mark":{"type":"text","text":"","fontSize":1},"encoding":{},"view":{"fill":"#5d5e5a"}}
], "spacing":0, "bounds":"flush"}
], "spacing":0},
{"width":4,"height":1137,"data":{"values":[{"k":0}]},"mark":{"type":"text","text":"","fontSize":1},"encoding":{},"view":{"fill":"#cf1f6b"}}
], "spacing":0},
{"width":1542,"height":12,"data":{"values":[{"k":0}]},"mark":{"type":"text","text":"","fontSize":1},"encoding":{},"view":{"fill":"#cf1f6b"}}
]
}
